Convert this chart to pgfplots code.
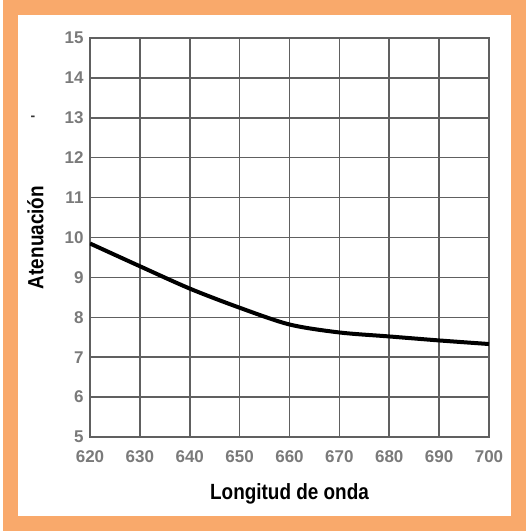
\documentclass[border=0pt]{standalone}
\usepackage{pgfplots}
\pgfplotsset{compat=1.18}
\usepackage{fontspec}
\setmainfont{Liberation Sans}
\newfontfamily\narrowfont[FakeStretch=0.86]{Liberation Sans}
\definecolor{frameor}{HTML}{F9A96B}
\definecolor{gridgray}{HTML}{606060}
\definecolor{tickgray}{HTML}{7A7A7A}
\begin{document}
\begin{tikzpicture}[x=1pt,y=1pt]
\path[use as bounding box] (0,0) rectangle (529,531);
\draw[frameor, line width=15pt] (10.5,7.5) rectangle (518.5,523.5);
\begin{axis}[
  at={(90pt,94pt)}, anchor=south west,
  scale only axis, width=399pt, height=399pt,
  xmin=620, xmax=700, ymin=5, ymax=15,
  xtick={620,630,...,700}, ytick={5,6,...,15},
  grid=major,
  major grid style={gridgray, line width=1.6pt},
  axis line style={gridgray, line width=1.6pt},
  tick style={draw=none},
  /pgf/number format/assume math mode=true,
  /pgf/number format/1000 sep={},
  tick label style={font=\bfseries\fontsize{17}{17}\selectfont, text=tickgray},
  xticklabel style={yshift=-10pt},
  yticklabel style={xshift=-3pt},
  xlabel={\narrowfont\bfseries\fontsize{22}{22}\selectfont Longitud de onda},
  ylabel={\narrowfont\bfseries\fontsize{22}{22}\selectfont Atenuación},
  xlabel style={yshift=-14pt},
  ylabel style={yshift=14pt},
]
\addplot[black, line width=4pt, smooth] coordinates {
(620,9.85) (630,9.28) (640,8.72) (650,8.24) (660,7.82) (670,7.62) (680,7.52) (690,7.42) (700,7.33)
};
\end{axis}
\node[font=\bfseries\fontsize{14}{14}\selectfont, text=black!80] at (33,413) {-};
\end{tikzpicture}
\end{document}
